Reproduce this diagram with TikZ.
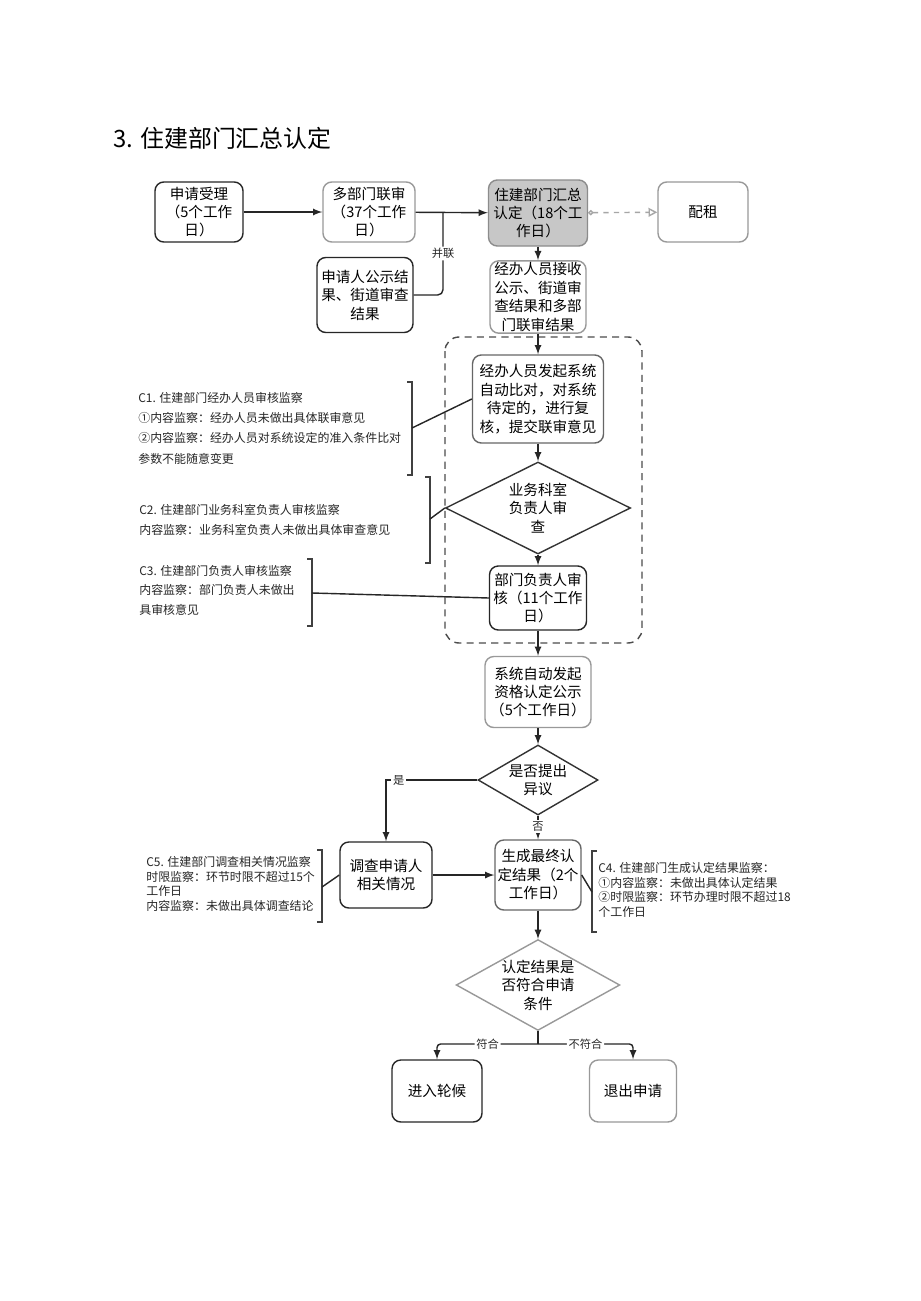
\documentclass[tikz,border=0pt]{standalone}
\usepackage{fontspec}
\newfontfamily\cjk{Noto Sans CJK SC}
\usepackage{tikz}
\usetikzlibrary{positioning}
\usetikzlibrary{arrows,shapes,arrows.meta}
\usetikzlibrary{calc}
\tikzstyle{darkbox}=[rectangle,rounded corners=5pt,draw=black!85,thick,align=center,inner sep=1pt,font=\cjk\fontsize{8.3}{10.5}\selectfont]
\tikzstyle{midbox}=[darkbox,draw=black!60]
\tikzstyle{lightbox}=[darkbox,draw=black!40]
\tikzstyle{greybox}=[darkbox,draw=black!45,fill=black!22]
\tikzstyle{decision}=[diamond,draw=black!80,thick,align=center,inner sep=0pt,aspect=1.8,font=\cjk\fontsize{8.3}{10.5}\selectfont]
\tikzstyle{edge} = [draw,thick,black!85,-latex]
\tikzstyle{undirectededge} = [draw,thick,black!85]
\tikzstyle{weight} = [font=\cjk\fontsize{6.4}{7}\selectfont,fill=white,inner sep=1pt]
\tikzstyle{note} = [align=left,anchor=north west,inner sep=0pt,text=black!85]
\tikzstyle{brace} = [draw,thick,black!75]

\begin{document}
\begin{tikzpicture}[x=0.02cm,y=-0.02cm]
    \fill[white] (0,0) rectangle (920,1301);
    \useasboundingbox (0,0) rectangle (920,1301);

    \node[anchor=west,inner sep=0pt,font=\cjk\fontsize{13.6}{15}\selectfont] (title) at (113,138) {3. 住建部门汇总认定};

    \foreach \pos/\name/\w/\h/\label in {{(199,212)/A/88/60/{申请受理\\（5个工作\\日）}}, {(365,295)/E/96/75/{申请人公示结\\果、街道审查\\结果}}, {(538,598)/I/97/64/{部门负责人审\\核（11个工作\\日）}}, {(386,875)/L/92/66/{调查申请人\\相关情况}}, {(437,1091)/O/90/62/{进入轮候}}}
        \node[darkbox,minimum width=\w*0.02cm,minimum height=\h*0.02cm] (\name) at \pos {\label};

    \foreach \pos/\name/\w/\h/\label in {{(538,399)/G/131/88/{经办人员发起系统\\自动比对，对系统\\待定的，进行复\\核，提交联审意见}}, {(538,875)/M/86/70/{生成最终认\\定结果（2个\\工作日）}}}
        \node[midbox,minimum width=\w*0.02cm,minimum height=\h*0.02cm] (\name) at \pos {\label};

    \foreach \pos/\name/\w/\h/\label in {{(369,212)/B/92/60/{多部门联审\\（37个工作\\日）}}, {(703,212)/D/90/60/{配租}}, {(538,297)/F/96/70/{经办人员接收\\公示、街道审\\查结果和多部\\门联审结果}}, {(538,692)/J/106/71/{系统自动发起\\资格认定公示\\（5个工作日）}}, {(633,1091)/P/87/62/{退出申请}}}
        \node[lightbox,minimum width=\w*0.02cm,minimum height=\h*0.02cm] (\name) at \pos {\label};

    \node[greybox,minimum width=99*0.02cm,minimum height=66*0.02cm] (C) at (538,213) {住建部门汇总\\认定（18个工\\作日）};

    \foreach \pos/\name/\w/\h/\label in {{(538,508)/H/185/92/{业务科室\\负责人审\\查}}, {(538,780)/K/120/70/{是否提出\\异议}}}
        \node[decision,minimum width=\w*0.02cm,minimum height=\h*0.02cm] (\name) at \pos {\label};
    \node[decision,draw=black!40,minimum width=107*0.02cm,minimum height=70*0.02cm] (N) at (538,985) {认定结果是\\否符合申请\\条件};

    % dashed group
    \draw[thick,black!70,dash pattern=on 4pt off 3pt,rounded corners=8pt] (445,337) rectangle (642,643);

    \coordinate (join) at (443,212);
    \coordinate (split) at (538,1044);

    \foreach \source/ \dest in {A/B, B/C, C/F, F/G, G/H, H/I, I/J, J/K, L/M, M/N}
        \path[edge] (\source) -- (\dest);
    \path[undirectededge,rounded corners=3pt] (E.east) -| node[weight,pos=0.75] {并联} (join);
    \path[draw,thick,black!35,dashed,{Circle[open,length=3pt]}-{Triangle[open,length=5pt,width=5pt]}] (C) -- (D);

    \path[edge] (K.west) -| node[weight,pos=0.43] {是} (L.north);
    \path[edge] (K.south) -- node[weight,pos=0.45] {否} (M.north);
    \path[undirectededge] (N.south) -- (split);
    \path[edge,rounded corners=2pt] (split) -| node[weight,pos=0.25] {符合} (O.north);
    \path[edge,rounded corners=2pt] (split) -| node[weight,pos=0.25] {不符合} (P.north);

    % annotations
    \node[note,font=\cjk\fontsize{6.8}{11.5}\selectfont] (c1text) at (138,392) {C1. 住建部门经办人员审核监察\\①内容监察：经办人员未做出具体联审意见\\②内容监察：经办人员对系统设定的准入条件比对\\参数不能随意变更};
    \node[note,font=\cjk\fontsize{6.8}{11.3}\selectfont] (c2text) at (139,504) {C2. 住建部门业务科室负责人审核监察\\内容监察：业务科室负责人未做出具体审查意见};
    \node[note,font=\cjk\fontsize{6.8}{11}\selectfont] (c3text) at (139,565) {C3. 住建部门负责人审核监察\\内容监察：部门负责人未做出\\具审核意见};
    \node[note,font=\cjk\fontsize{6.8}{8.4}\selectfont] (c5text) at (146,856) {C5. 住建部门调查相关情况监察\\时限监察：环节时限不超过15个\\工作日\\内容监察：未做出具体调查结论};
    \node[note,font=\cjk\fontsize{6.8}{8.4}\selectfont] (c4text) at (598,862) {C4. 住建部门生成认定结果监察：\\①内容监察：未做出具体认定结果\\②时限监察：环节办理时限不超过18\\个工作日};

    \draw[brace] (407,382) -- (412,382) -- (412,475) -- (407,475);
    \draw[brace] (425,477) -- (430,477) -- (430,563) -- (425,563);
    \draw[brace] (307,559) -- (312,559) -- (312,626) -- (307,626);
    \draw[brace] (317,850) -- (322,850) -- (322,922) -- (317,922);
    \draw[brace] (597,851) -- (592,851) -- (592,932) -- (597,932);
    \coordinate (c1) at (412,428);
    \coordinate (c2) at (430,519);
    \coordinate (c3) at (312,593);
    \coordinate (c5) at (322,887);
    \coordinate (c4) at (592,892);

    \foreach \source/ \dest in {c1/G.west, c2/H.west, c3/I.west, c5/L.west, c4/M.east}
        \path[undirectededge] (\source) -- (\dest);
\end{tikzpicture}
\end{document}
